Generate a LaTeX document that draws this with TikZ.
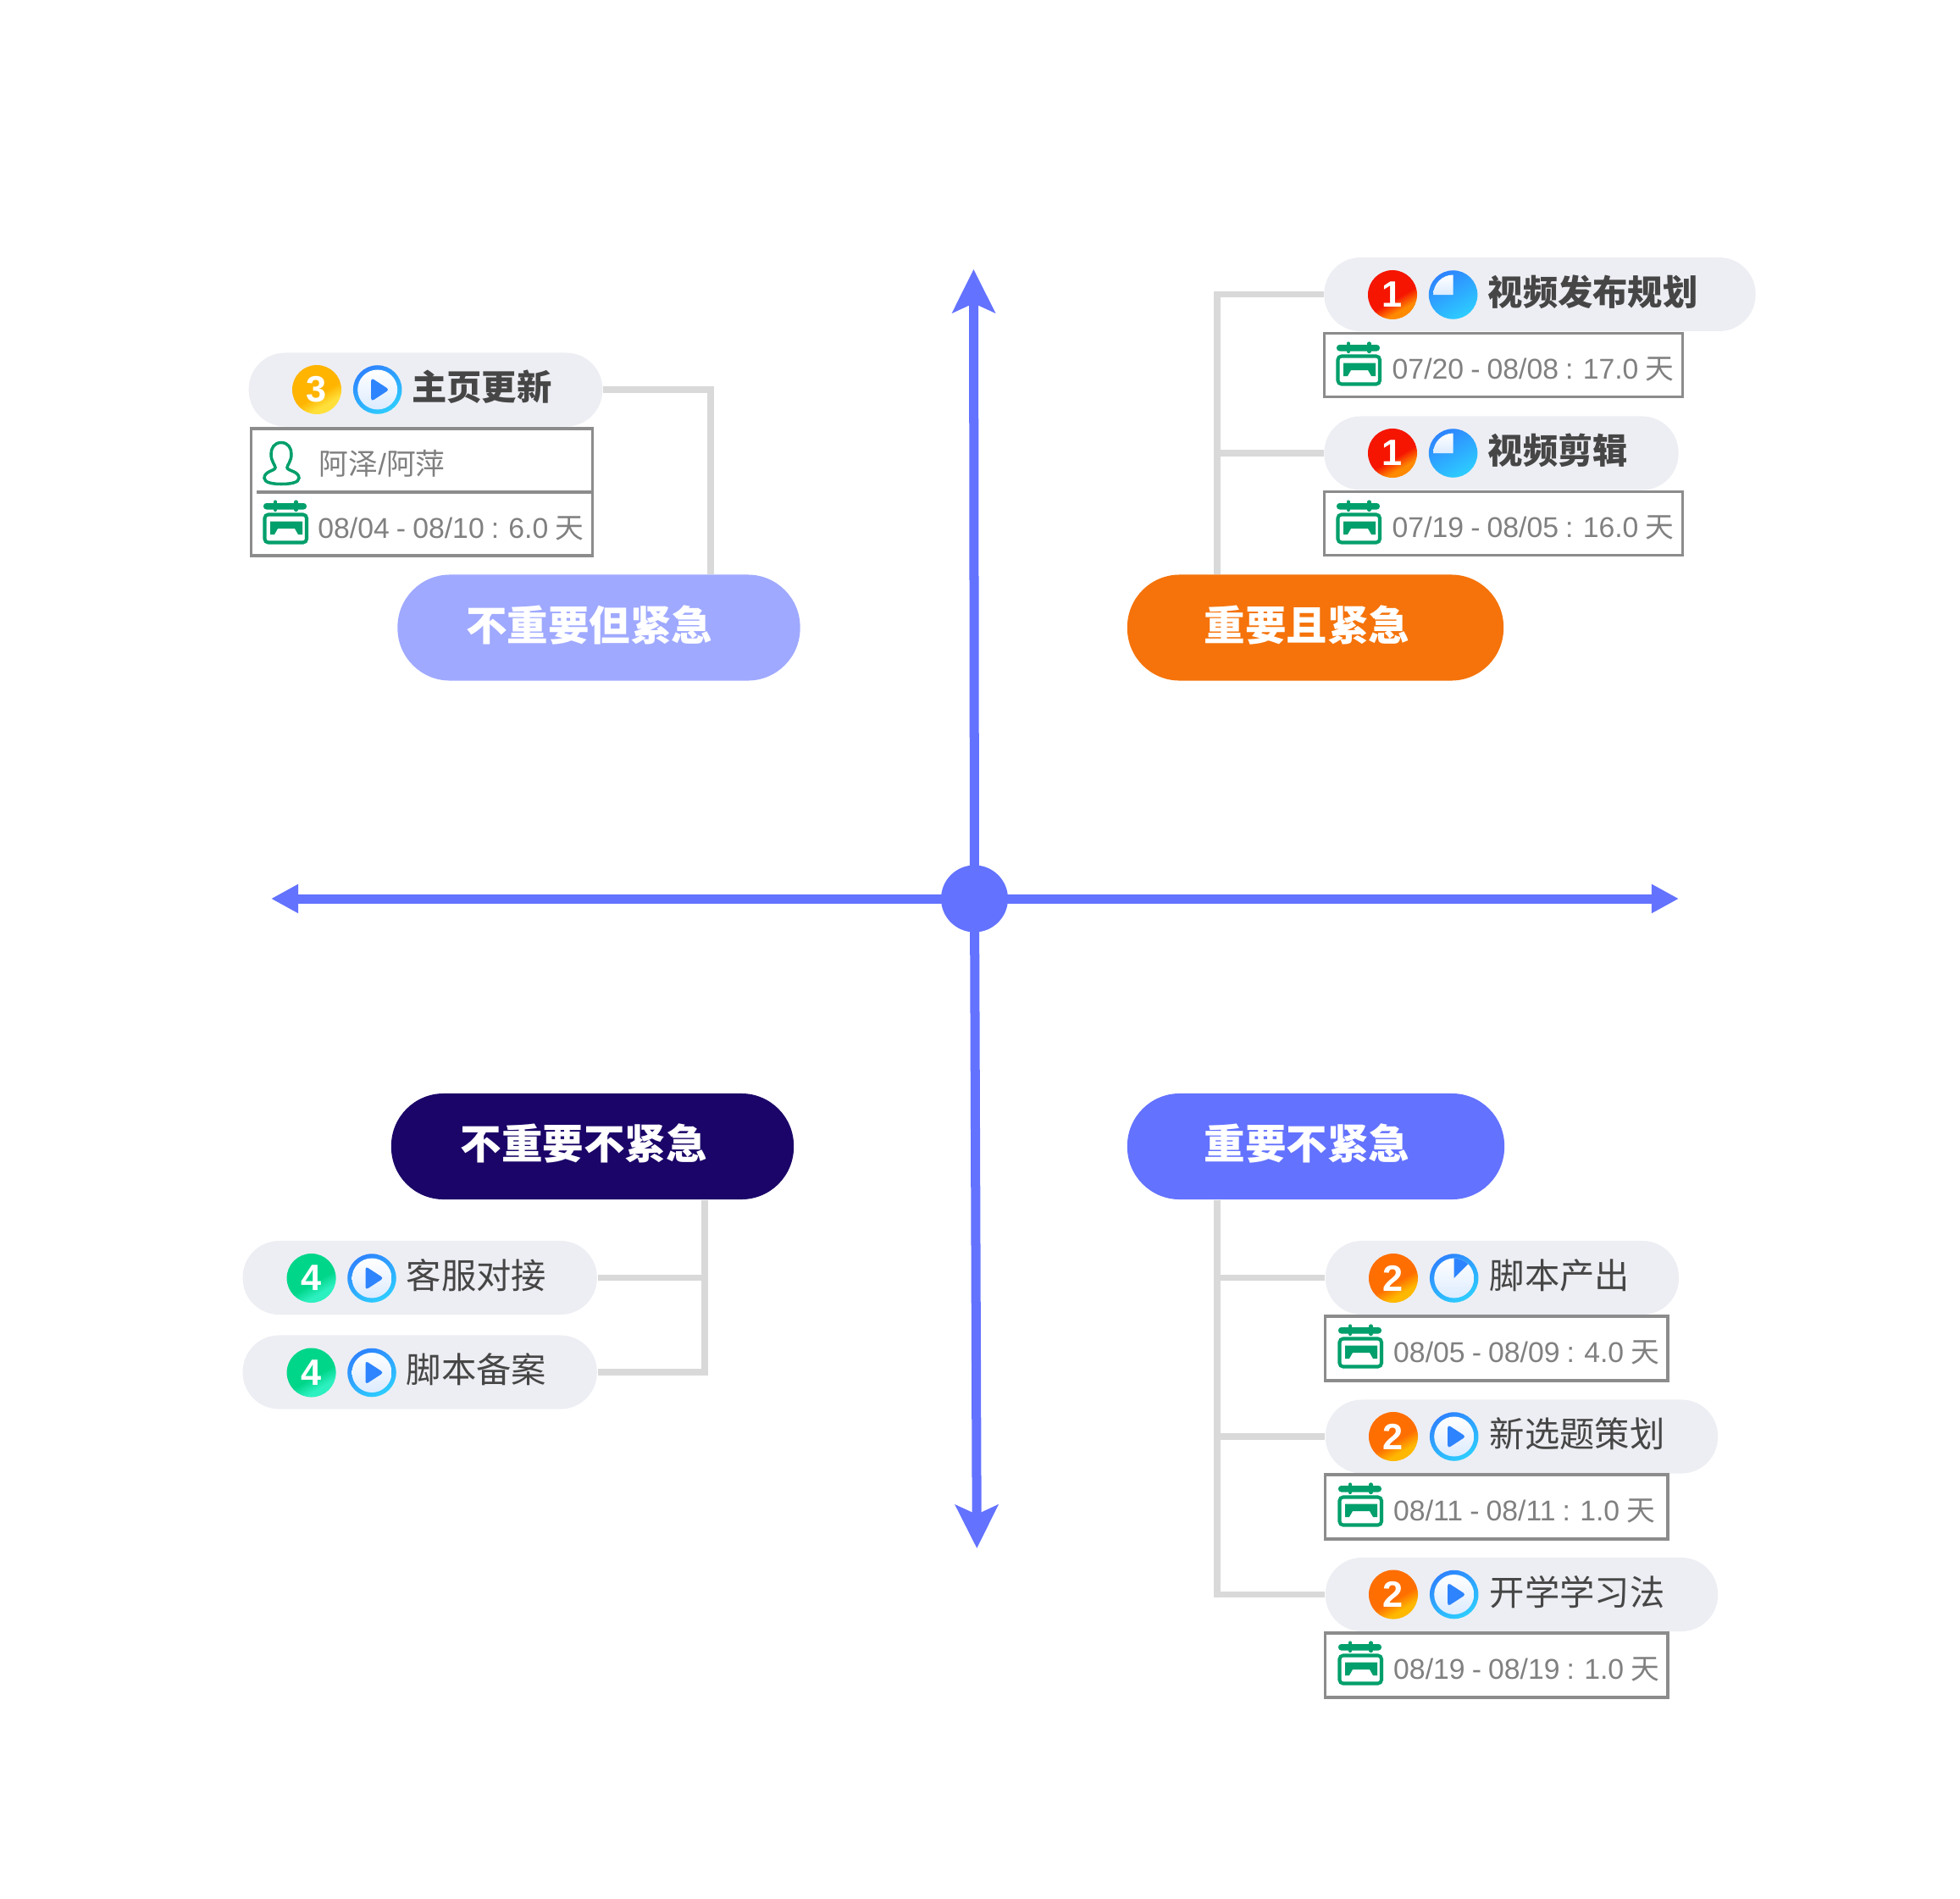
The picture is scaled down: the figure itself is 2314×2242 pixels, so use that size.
\documentclass[tikz,border=0pt]{standalone}
\usepackage{fontspec}
\setmainfont{Liberation Sans}
\newfontfamily\cjk{Noto Sans CJK SC}
\usepackage{tikz}
\usetikzlibrary{arrows.meta,calc}
\definecolor{qdblue}{HTML}{6372FF}
\definecolor{qdorange}{HTML}{F5730A}
\definecolor{qdlilac}{HTML}{9FA9FF}
\definecolor{qdnavy}{HTML}{1B0568}
\definecolor{qdpill}{HTML}{EDEEF3}
\definecolor{qdline}{HTML}{D9D9D9}
\definecolor{qdbox}{HTML}{8C8C8C}
\definecolor{qdtext}{HTML}{464646}
\definecolor{qddate}{HTML}{808080}
\definecolor{qdgreen}{HTML}{009F6B}
\definecolor{qdring}{HTML}{2E84FF}
\definecolor{qdcyan}{HTML}{2DCDFF}
\definecolor{qdpale}{HTML}{DCEBFF}
\definecolor{qdreda}{HTML}{F51500}
\definecolor{qdredb}{HTML}{FF8A00}
\definecolor{qdoranga}{HTML}{FF6E00}
\definecolor{qdorangb}{HTML}{FFB800}
\definecolor{qdambera}{HTML}{FFB400}
\definecolor{qdamberb}{HTML}{FFE03A}
\definecolor{qdminta}{HTML}{00D68A}
\definecolor{qdmintb}{HTML}{2DF0C0}
\pgfdeclareverticalshading{ballred}{100bp}{color(0bp)=(qdredb); color(32bp)=(qdredb); color(45bp)=(qdreda); color(100bp)=(qdreda)}
\pgfdeclareverticalshading{ballorange}{100bp}{color(0bp)=(qdorangb); color(32bp)=(qdorangb); color(45bp)=(qdoranga); color(100bp)=(qdoranga)}
\pgfdeclareverticalshading{ballamber}{100bp}{color(0bp)=(qdamberb); color(32bp)=(qdamberb); color(45bp)=(qdambera); color(100bp)=(qdambera)}
\pgfdeclareverticalshading{ballmint}{100bp}{color(0bp)=(qdmintb); color(32bp)=(qdmintb); color(45bp)=(qdminta); color(100bp)=(qdminta)}
\tikzset{
  catpill/.style={rounded corners=17.6pt,minimum height=1.25cm,inner sep=0},
  catlabel/.style={font=\cjk\bfseries\fontsize{13.8}{16}\selectfont,text=white,
        anchor=base west,inner sep=0},
  taskpill/.style={fill=qdpill,rounded corners=12.2pt,minimum height=0.87cm,inner sep=0},
  tasklabel/.style={font=\cjk\fontsize{11.75}{14}\selectfont,text=qdtext,
        anchor=base west,inner sep=0},
  urgentlabel/.style={tasklabel,font=\cjk\bfseries\fontsize{11.75}{14}\selectfont},
  datebox/.style={draw=qdbox,line width=1pt,fill=white,inner sep=0},
  datelabel/.style={font=\fontsize{9.6}{12}\selectfont,text=qddate,
        execute at begin node={\spaceskip=0.24em\relax},
        anchor=base west,inner sep=0},
  namelabel/.style={datelabel,font=\fontsize{9.9}{12}\selectfont},
  prioball/.style={circle,minimum size=0.58cm,inner sep=0,text=white,
        font=\bfseries\fontsize{12.3}{14}\selectfont},
  prioa/.style={prioball,shading=ballred,shading angle=30},
  priob/.style={prioball,shading=ballorange,shading angle=30},
  prioc/.style={prioball,shading=ballamber,shading angle=30},
  priod/.style={prioball,shading=ballmint,shading angle=30},
  ringicon/.style={circle,minimum size=0.575cm,inner sep=0,top color=qdring,
        bottom color=qdcyan,shading angle=30},
  branchline/.style={draw=qdline,line width=0.075cm},
  axisline/.style={draw=qdblue,line width=0.11cm},
}
\newcommand{\ringface}[1]{\shade[top color=white,bottom color=qdpale] (#1.center) circle (23.5);}
\newcommand{\playmark}[1]{\ringface{#1}
  \fill[qdring,rounded corners=1pt] ($(#1.center)+(-7.5,-14)$) -- ++(21.5,14) -- ++(-21.5,14) -- cycle;}
\newcommand{\piethree}[1]{\shade[top color=white,bottom color=qdpale]
  (#1.center) -- ++(-23.5,0) arc[start angle=180,end angle=270,radius=23.5] -- cycle;}
\newcommand{\pieone}[1]{\ringface{#1}
  \fill[qdring] (#1.center) -- ++(0,-23.5) arc[start angle=270,end angle=315,radius=23.5] -- cycle;}
\newcommand{\calicon}[2]{\begin{scope}[shift={(#1,#2)}]
  \fill[qdgreen,rounded corners=1pt] (0,4) rectangle (51,11.5);
  \draw[qdgreen,line width=1.2pt,line cap=round] (14,2.5) -- (14,12) (38.5,2.5) -- (38.5,12);
  \draw[qdgreen,line width=1.15pt,rounded corners=1.2pt] (1.5,17.5) rectangle (51,50.5);
  \fill[qdgreen] (8,25.5) -- (46,25.5) -- (46,41) -- (41,41) -- (37,34) -- (17,34) -- (13,41) -- (8,41) -- cycle;
\end{scope}}
\begin{document}
\begin{tikzpicture}[x=0.01cm,y=-0.01cm]
  \useasboundingbox (0,0) rectangle (2314,2242);

  %% Axes and centre
  \node[circle,fill=qdblue,minimum size=0.79cm,inner sep=0] (hub) at (1150.5,1061) {};
  \coordinate (axistop) at (1149.5,318);
  \coordinate (axisbottom) at (1153.3,1828);
  \coordinate (axisleft) at (320,1061);
  \coordinate (axisright) at (1982,1061);
  \draw[axisline,-{Stealth[length=5.1mm,width=5mm,inset=1.1mm]}] (hub.center) -- (axistop);
  \draw[axisline,-{Stealth[length=5.1mm,width=5mm,inset=1.1mm]}] (hub.center) -- (axisbottom);
  \draw[axisline,-{Triangle[length=3.2mm,width=3.2mm]}] (hub.center) -- (axisleft);
  \draw[axisline,-{Triangle[length=3.2mm,width=3.2mm]}] (hub.center) -- (axisright);

  %% Top right: important and urgent
  \node[catpill,fill=qdorange,minimum width=4.44cm] (catur) at (1553,741) {};
  \node[catlabel] (caturtext) at (1421,756) {重要且紧急};
  \node[taskpill,minimum width=5.09cm] (urone) at (1818,347.5) {};
  \node[taskpill,minimum width=4.18cm] (urtwo) at (1772.5,535) {};
  \draw[branchline] ([xshift=-1.16cm]catur.north) |- (urone.west);
  \draw[branchline] ([xshift=-1.16cm]catur.north) |- (urtwo.west);
  \node[prioa] (uronep) at (1644,348) {1};
  \node[ringicon] (uroner) at (1715.6,348) {};
  \piethree{uroner}
  \node[urgentlabel] (uronet) at (1756,360) {视频发布规划};
  \node[datebox,minimum width=4.225cm,minimum height=0.745cm] (uroned) at (1775,431) {};
  \calicon{1578}{403}
  \node[datelabel] (uronedt) at (1643,447) {07/20 - 08/08 : 17.0 {\cjk 天}};
  \node[prioa] (urtwop) at (1644,535) {1};
  \node[ringicon] (urtwor) at (1715.6,535) {};
  \piethree{urtwor}
  \node[urgentlabel] (urtwot) at (1756,547) {视频剪辑};
  \node[datebox,minimum width=4.225cm,minimum height=0.745cm] (urtwod) at (1775,618) {};
  \calicon{1578}{590}
  \node[datelabel] (urtwodt) at (1643,634) {07/19 - 08/05 : 16.0 {\cjk 天}};

  %% Top left: not important but urgent
  \node[catpill,fill=qdlilac,minimum width=4.75cm] (catul) at (707,741) {};
  \node[catlabel] (catultext) at (549.5,756) {不重要但紧急};
  \node[taskpill,minimum width=4.175cm] (ulone) at (502.5,460) {};
  \draw[branchline] ([xshift=1.32cm]catul.north) |- (ulone.east);
  \node[prioc] (ulonep) at (374,460) {3};
  \node[ringicon] (uloner) at (445.7,460) {};
  \playmark{uloner}
  \node[urgentlabel] (ulonet) at (485.5,472) {主页更新};
  \node[datebox,minimum width=4.03cm,minimum height=1.5cm] (uloned) at (498,581) {};
  \coordinate (ulonediv) at (303,581);
  \draw[draw=qdbox,line width=1pt] (ulonediv) -- (uloned.east);
  \draw[qdgreen,line width=1pt] (332,522.5) .. controls (324,522.5) and (320,529) .. (320,536)
     .. controls (320,545) and (325,549) .. (325,552) .. controls (325,556) and (312,556) .. (312,564.5)
     .. controls (312,570) and (323,571.5) .. (332,571.5) .. controls (342,571.5) and (353,570) .. (353,564.5)
     .. controls (353,556) and (339,556) .. (339,552) .. controls (339,549) and (344,545) .. (344,536)
     .. controls (344,529) and (340,522.5) .. (332,522.5) -- cycle;
  \node[namelabel] (ulonen) at (376,560.5) {{\cjk 阿泽}/{\cjk 阿萍}};
  \calicon{311}{590}
  \node[datelabel] (ulonedt) at (374.7,635) {08/04 - 08/10 : 6.0 {\cjk 天}};

  %% Bottom left: not important, not urgent
  \node[catpill,fill=qdnavy,minimum width=4.75cm] (catll) at (699.5,1353.5) {};
  \node[catlabel] (catlltext) at (543,1368) {不重要不紧急};
  \node[taskpill,minimum width=4.18cm] (llone) at (495.7,1508.5) {};
  \node[taskpill,minimum width=4.18cm] (lltwo) at (495.7,1620) {};
  \draw[branchline] ([xshift=1.325cm]catll.south) |- (llone.east);
  \draw[branchline] ([xshift=1.325cm]catll.south) |- (lltwo.east);
  \node[priod] (llonep) at (367.6,1509) {4};
  \node[ringicon] (lloner) at (439,1509) {};
  \playmark{lloner}
  \node[tasklabel] (llonet) at (479,1521) {客服对接};
  \node[priod] (lltwop) at (367.6,1620.5) {4};
  \node[ringicon] (lltwor) at (439,1620.5) {};
  \playmark{lltwor}
  \node[tasklabel] (lltwot) at (479,1632) {脚本备案};

  %% Bottom right: important, not urgent
  \node[catpill,fill=qdblue,minimum width=4.45cm] (catlr) at (1553.5,1353.5) {};
  \node[catlabel] (catlrtext) at (1421,1368) {重要不紧急};
  \node[taskpill,minimum width=4.17cm] (lrone) at (1773.5,1508.5) {};
  \node[taskpill,minimum width=4.63cm] (lrtwo) at (1796.5,1696) {};
  \node[taskpill,minimum width=4.63cm] (lrthree) at (1796.5,1882.5) {};
  \draw[branchline] ([xshift=-1.165cm]catlr.south) |- (lrone.west);
  \draw[branchline] ([xshift=-1.165cm]catlr.south) |- (lrtwo.west);
  \draw[branchline] ([xshift=-1.165cm]catlr.south) |- (lrthree.west);
  \node[priob] (lronep) at (1645,1509) {2};
  \node[ringicon] (lroner) at (1716.7,1509) {};
  \pieone{lroner}
  \node[tasklabel] (lronet) at (1758,1521) {脚本产出};
  \node[datebox,minimum width=4.045cm,minimum height=0.755cm] (lroned) at (1766.7,1592) {};
  \calicon{1580}{1563}
  \node[datelabel] (lronedt) at (1644.5,1608) {08/05 - 08/09 : 4.0 {\cjk 天}};
  \node[priob] (lrtwop) at (1645,1696) {2};
  \node[ringicon] (lrtwor) at (1716.7,1696) {};
  \playmark{lrtwor}
  \node[tasklabel] (lrtwot) at (1758,1708) {新选题策划};
  \node[datebox,minimum width=4.045cm,minimum height=0.755cm] (lrtwod) at (1766.7,1779) {};
  \calicon{1580}{1750}
  \node[datelabel] (lrtwodt) at (1644.5,1795) {08/11 - 08/11 : 1.0 {\cjk 天}};
  \node[priob] (lrthreep) at (1645,1882.5) {2};
  \node[ringicon] (lrthreer) at (1716.7,1882.5) {};
  \playmark{lrthreer}
  \node[tasklabel] (lrthreet) at (1758,1895) {开学学习法};
  \node[datebox,minimum width=4.045cm,minimum height=0.755cm] (lrthreed) at (1766.7,1966) {};
  \calicon{1580}{1937}
  \node[datelabel] (lrthreedt) at (1644.5,1982) {08/19 - 08/19 : 1.0 {\cjk 天}};
\end{tikzpicture}
\end{document}
